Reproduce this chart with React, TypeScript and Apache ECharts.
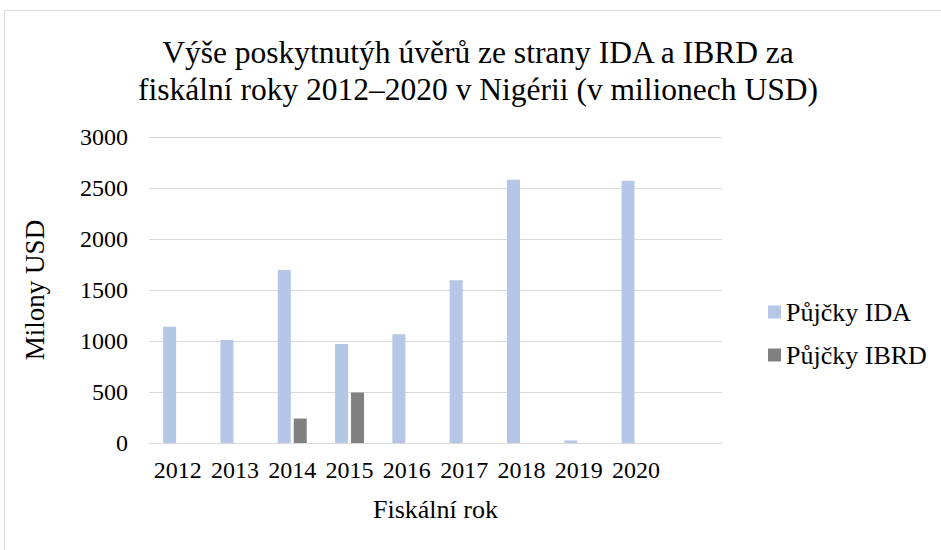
import React, { useEffect, useRef } from "react";
import * as echarts from "echarts";

const years = ["2012", "2013", "2014", "2015", "2016", "2017", "2018", "2019", "2020"];
const idaLoans = [1140, 1010, 1695, 970, 1065, 1595, 2580, 25, 2570];
const ibrdLoans = [0, 0, 240, 495, 0, 0, 0, 0, 0];
const yTicks = [0, 500, 1000, 1500, 2000, 2500, 3000];

const FONT = "'Liberation Serif', 'Times New Roman', serif";

export default function App() {
  const ref = useRef<HTMLDivElement>(null);
  useEffect(() => {
    if (!ref.current) return;
    const chart = echarts.init(ref.current, undefined, { renderer: "svg" });
    const cats = [...years, ""];
    const pad = (arr: number[]) => [...arr, null];
    chart.setOption({
      animation: false,
      backgroundColor: "#ffffff",
      graphic: [
        {
          type: "rect",
          shape: { x: 4.5, y: 10.5, width: 1000, height: 700 },
          style: { fill: "none", stroke: "#D9D9D9", lineWidth: 1 },
          silent: true,
        },
      ],
      title: {
        text: "Výše poskytnutýh úvěrů ze strany IDA a IBRD za\nfiskální roky 2012–2020 v Nigérii (v milionech USD)",
        left: 473,
        textAlign: "center",
        top: 29,
        textStyle: {
          fontFamily: FONT,
          fontSize: 31.5,
          fontWeight: "normal",
          color: "#000",
          lineHeight: 37,
        },
      },
      legend: {
        orient: "vertical",
        left: 763,
        top: 294,
        itemWidth: 13,
        itemHeight: 13,
        itemGap: 17,
        icon: "rect",
        textStyle: { fontFamily: FONT, fontSize: 26, color: "#000" },
        data: ["Půjčky IDA", "Půjčky IBRD"],
      },
      grid: { left: 149, right: 219, top: 137, bottom: 107, containLabel: false },
      xAxis: {
        type: "category",
        data: cats,
        name: "Fiskální rok",
        nameLocation: "middle",
        nameGap: 53,
        nameTextStyle: { fontFamily: FONT, fontSize: 26, color: "#000" },
        axisTick: { show: false },
        axisLine: { show: true, lineStyle: { color: "#D9D9D9", width: 1 } },
        axisLabel: { fontFamily: FONT, fontSize: 24, color: "#000", margin: 15, interval: 0 },
      },
      yAxis: {
        type: "value",
        min: yTicks[0],
        max: yTicks[yTicks.length - 1],
        interval: 500,
        name: "Milony USD",
        nameLocation: "middle",
        nameGap: 101,
        nameTextStyle: { fontFamily: FONT, fontSize: 27, color: "#000" },
        axisLine: { show: false },
        axisTick: { show: false },
        axisLabel: {
          fontFamily: FONT,
          fontSize: 24,
          color: "#000",
          margin: 21,
          formatter: (v: number) => String(v),
        },
        splitLine: { lineStyle: { color: "#D9D9D9", width: 1 } },
      },
      series: [
        {
          name: "Půjčky IDA",
          type: "bar",
          data: pad(idaLoans),
          barWidth: 13,
          barGap: "23%",
          itemStyle: { color: "#B4C7E7" },
        },
        {
          name: "Půjčky IBRD",
          type: "bar",
          data: pad(ibrdLoans),
          barWidth: 13,
          barGap: "23%",
          itemStyle: { color: "#808080" },
        },
      ],
    });
    return () => chart.dispose();
  }, []);
  return (
    <div
      ref={ref}
      style={{ position: "fixed", left: 0, top: 0, width: 941, height: 550 }}
    />
  );
}
